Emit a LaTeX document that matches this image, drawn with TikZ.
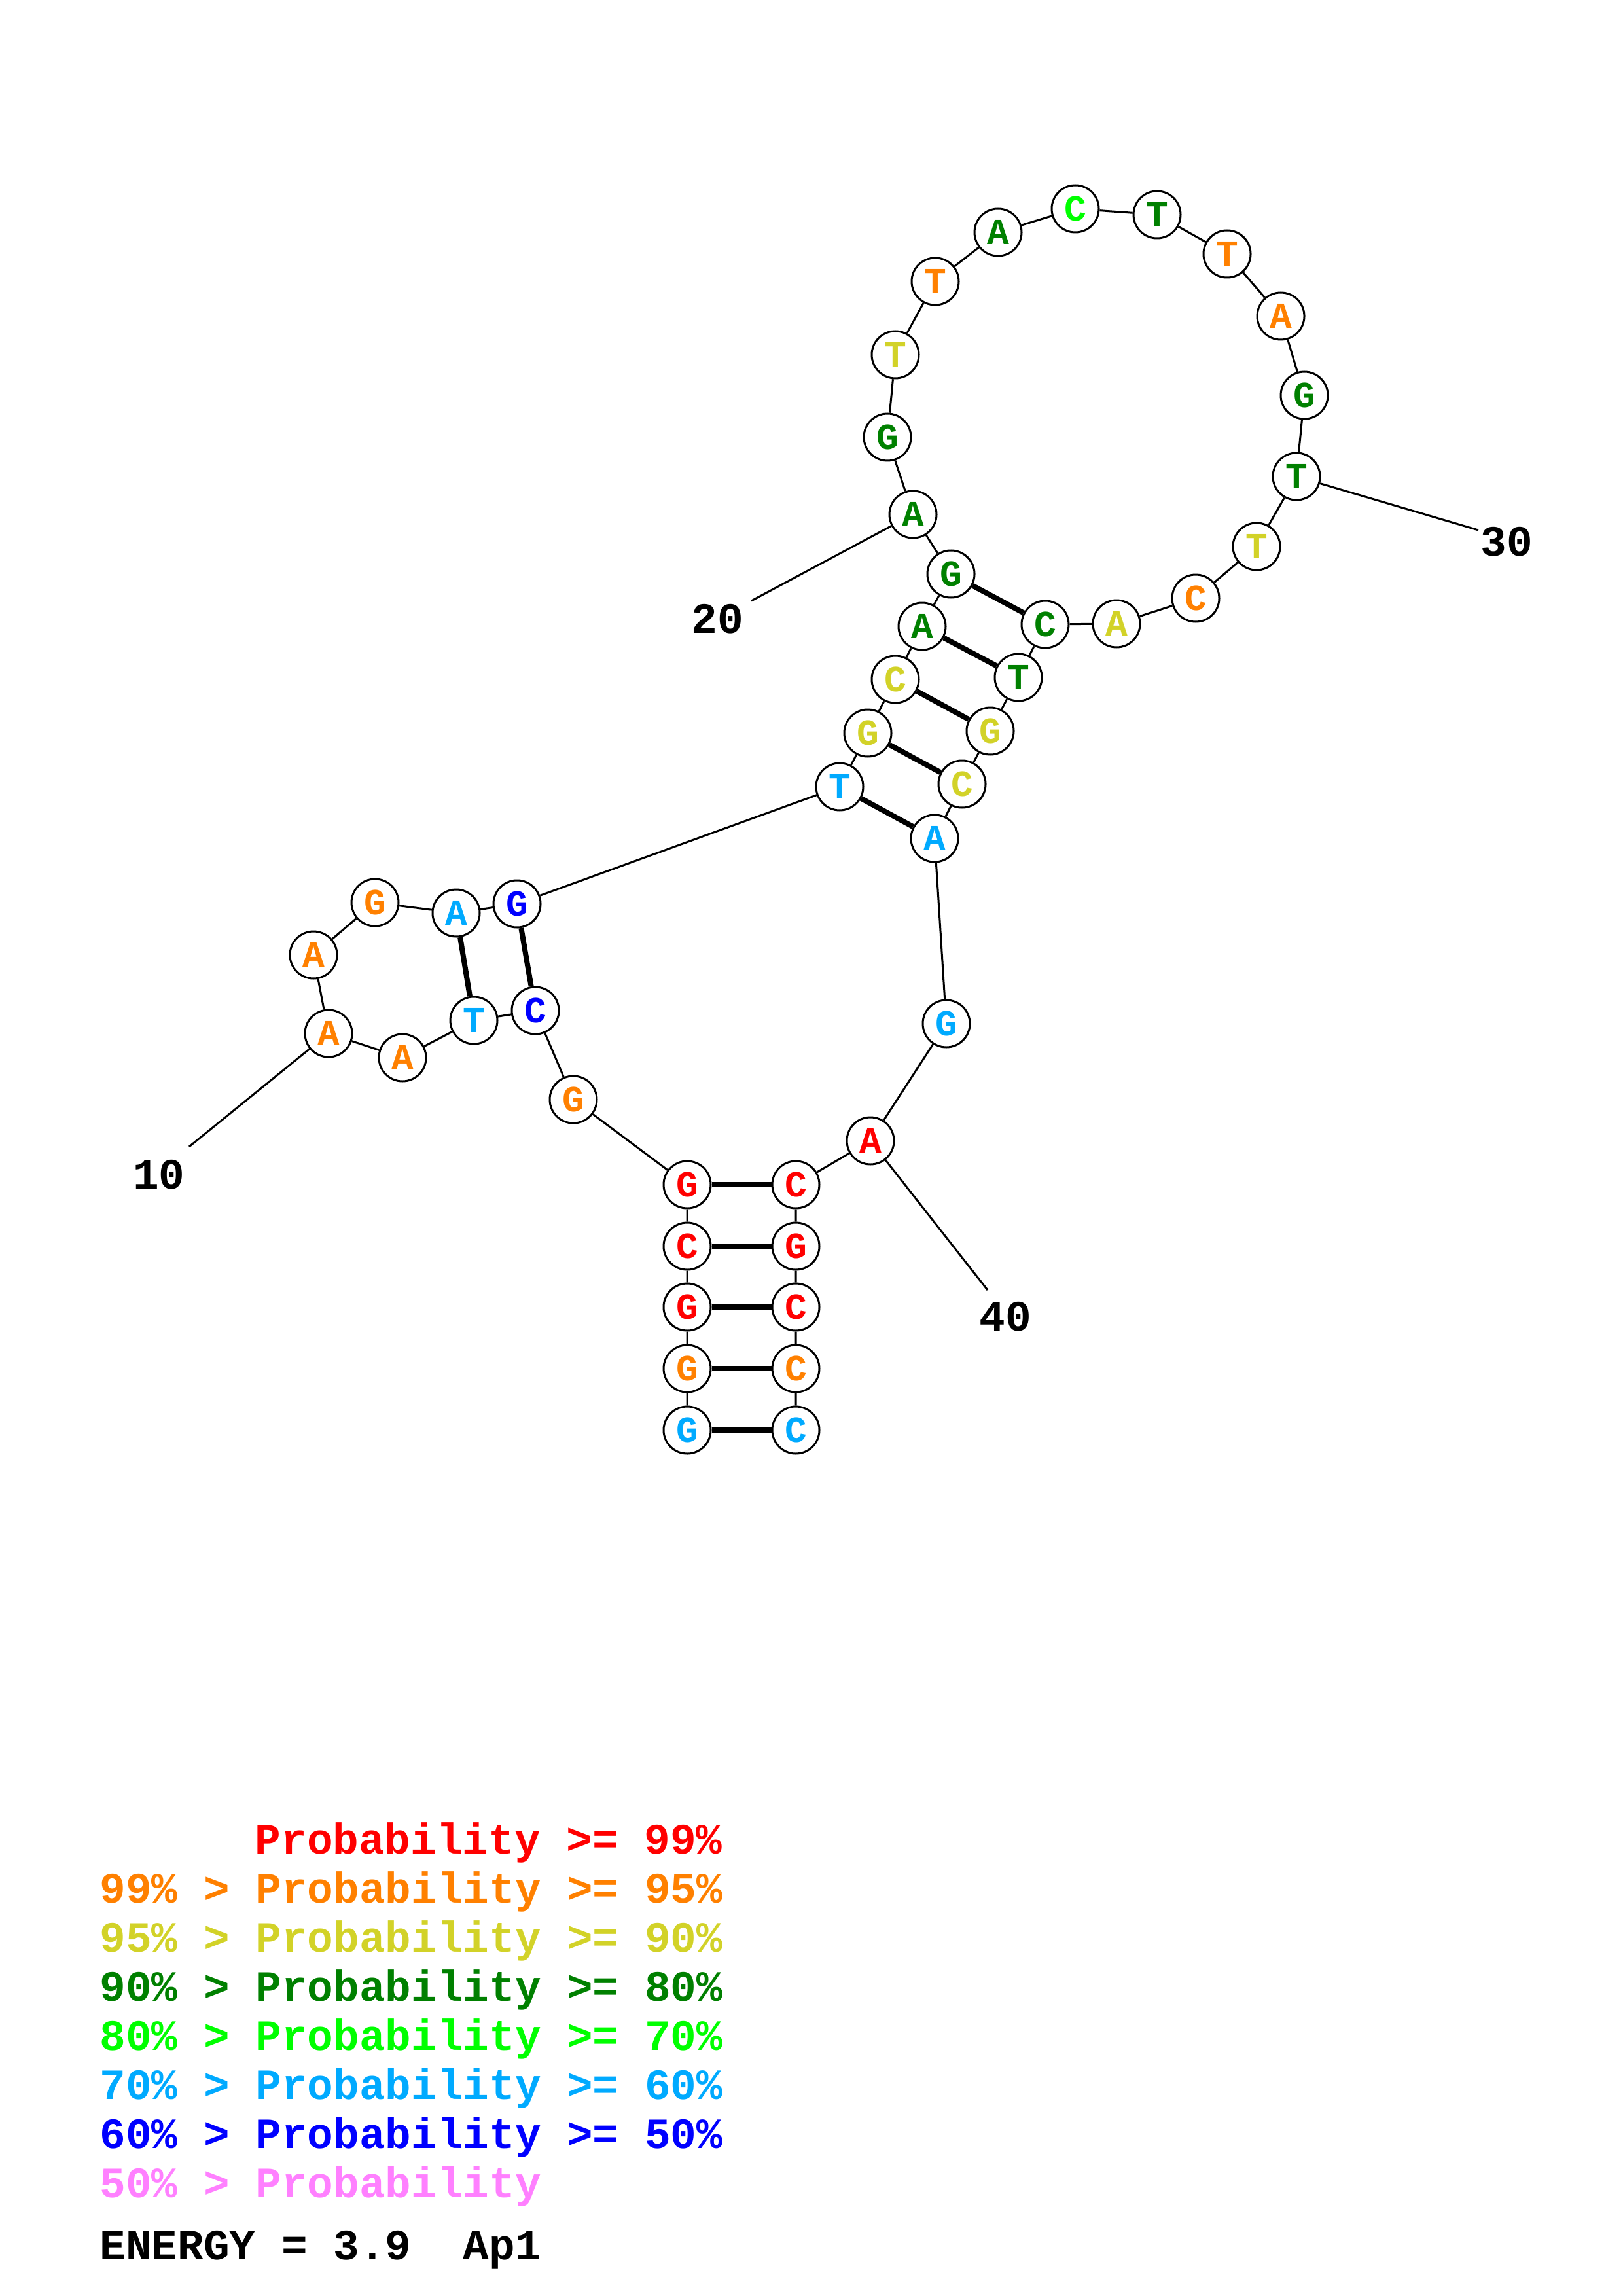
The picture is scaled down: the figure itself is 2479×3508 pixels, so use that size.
\documentclass[tikz,border=0pt]{standalone}
\usepackage{fontspec}
\setmainfont{Liberation Mono}
\usepackage{tikz}
\definecolor{c99}{RGB}{255,0,0}
\definecolor{c95}{RGB}{255,128,0}
\definecolor{c90}{RGB}{210,210,40}
\definecolor{c80}{RGB}{0,128,0}
\definecolor{c70}{RGB}{0,255,0}
\definecolor{c60}{RGB}{0,170,255}
\definecolor{c50}{RGB}{0,0,255}
\definecolor{clow}{RGB}{255,128,255}
\frenchspacing

\begin{document}
\begin{tikzpicture}[x=0.1mm,y=-0.1mm]
        \tikzstyle{every node}+=[inner sep=0pt]
        \tikzstyle{base}=[circle, draw=black, line width=0.3mm, fill=white, minimum size=7.2mm, font=\fontsize{16}{16}\selectfont\bfseries]
        \tikzstyle{num}=[font=\fontsize{18.8}{18.8}\selectfont\bfseries]
        \tikzstyle{bb}=[line width=0.3mm]
        \tikzstyle{bp}=[line width=0.8mm]
        \useasboundingbox (0,0) rectangle (2479,3508);
        % nucleotides
        \node [base, text=c60] (b1) at (1050,2185) {G};
        \node [base, text=c95] (b2) at (1050,2091) {G};
        \node [base, text=c99] (b3) at (1050,1997) {G};
        \node [base, text=c99] (b4) at (1050,1904) {C};
        \node [base, text=c99] (b5) at (1050,1810) {G};
        \node [base, text=c95] (b6) at (876,1680) {G};
        \node [base, text=c50] (b7) at (818,1544) {C};
        \node [base, text=c60] (b8) at (724,1559) {T};
        \node [base, text=c95] (b9) at (615,1616) {A};
        \node [base, text=c95] (b10) at (502,1579) {A};
        \node [base, text=c95] (b11) at (479,1459) {A};
        \node [base, text=c95] (b12) at (573,1379) {G};
        \node [base, text=c60] (b13) at (697,1395) {A};
        \node [base, text=c50] (b14) at (790,1381) {G};
        \node [base, text=c60] (b15) at (1283,1202) {T};
        \node [base, text=c90] (b16) at (1326,1120) {G};
        \node [base, text=c90] (b17) at (1368,1038) {C};
        \node [base, text=c80] (b18) at (1409,957) {A};
        \node [base, text=c80] (b19) at (1453,877) {G};
        \node [base, text=c80] (b20) at (1395,786) {A};
        \node [base, text=c80] (b21) at (1356,668) {G};
        \node [base, text=c90] (b22) at (1368,542) {T};
        \node [base, text=c95] (b23) at (1429,430) {T};
        \node [base, text=c80] (b24) at (1525,355) {A};
        \node [base, text=c70] (b25) at (1643,319) {C};
        \node [base, text=c80] (b26) at (1768,328) {T};
        \node [base, text=c95] (b27) at (1875,388) {T};
        \node [base, text=c95] (b28) at (1957,483) {A};
        \node [base, text=c80] (b29) at (1993,604) {G};
        \node [base, text=c80] (b30) at (1981,728) {T};
        \node [base, text=c90] (b31) at (1920,835) {T};
        \node [base, text=c95] (b32) at (1827,914) {C};
        \node [base, text=c90] (b33) at (1706,953) {A};
        \node [base, text=c80] (b34) at (1597,954) {C};
        \node [base, text=c80] (b35) at (1556,1035) {T};
        \node [base, text=c90] (b36) at (1513,1117) {G};
        \node [base, text=c90] (b37) at (1470,1198) {C};
        \node [base, text=c60] (b38) at (1428,1281) {A};
        \node [base, text=c60] (b39) at (1446,1564) {G};
        \node [base, text=c99] (b40) at (1330,1743) {A};
        \node [base, text=c99] (b41) at (1216,1810) {C};
        \node [base, text=c99] (b42) at (1216,1904) {G};
        \node [base, text=c99] (b43) at (1216,1997) {C};
        \node [base, text=c95] (b44) at (1216,2091) {C};
        \node [base, text=c60] (b45) at (1216,2185) {C};
        % backbone
        \draw [bb] (b1) -- (b2) -- (b3) -- (b4) -- (b5) -- (b6) -- (b7) -- (b8) -- (b9) -- (b10)
          -- (b11) -- (b12) -- (b13) -- (b14) -- (b15) -- (b16) -- (b17) -- (b18) -- (b19) -- (b20)
          -- (b21) -- (b22) -- (b23) -- (b24) -- (b25) -- (b26) -- (b27) -- (b28) -- (b29) -- (b30)
          -- (b31) -- (b32) -- (b33) -- (b34) -- (b35) -- (b36) -- (b37) -- (b38) -- (b39) -- (b40)
          -- (b41) -- (b42) -- (b43) -- (b44) -- (b45);
        % base pairs
        \draw [bp] (b1) -- (b45);
        \draw [bp] (b2) -- (b44);
        \draw [bp] (b3) -- (b43);
        \draw [bp] (b4) -- (b42);
        \draw [bp] (b5) -- (b41);
        \draw [bp] (b7) -- (b14);
        \draw [bp] (b8) -- (b13);
        \draw [bp] (b15) -- (b38);
        \draw [bp] (b16) -- (b37);
        \draw [bp] (b17) -- (b36);
        \draw [bp] (b18) -- (b35);
        \draw [bp] (b19) -- (b34);
        % position ticks
        \coordinate (t10) at (289,1752);
        \coordinate (t20) at (1148,918);
        \coordinate (t30) at (2259,810);
        \coordinate (t40) at (1509,1971);
        \draw [bb] (b10) -- (t10);
        \draw [bb] (b20) -- (t20);
        \draw [bb] (b30) -- (t30);
        \draw [bb] (b40) -- (t40);
        \node [num] (l10) at (243,1795) {10};
        \node [num] (l20) at (1096,946) {20};
        \node [num] (l30) at (2302,828) {30};
        \node [num] (l40) at (1536,2012) {40};
        % legend
        \node [num, anchor=base west, text=c99] (k1) at (389,2832) {Probability >= 99\%};
        \node [num, anchor=base west, text=c95] (k2) at (152,2907) {99\% > Probability >= 95\%};
        \node [num, anchor=base west, text=c90] (k3) at (152,2982) {95\% > Probability >= 90\%};
        \node [num, anchor=base west, text=c80] (k4) at (152,3057) {90\% > Probability >= 80\%};
        \node [num, anchor=base west, text=c70] (k5) at (152,3132) {80\% > Probability >= 70\%};
        \node [num, anchor=base west, text=c60] (k6) at (152,3207) {70\% > Probability >= 60\%};
        \node [num, anchor=base west, text=c50] (k7) at (152,3282) {60\% > Probability >= 50\%};
        \node [num, anchor=base west, text=clow] (k8) at (152,3357) {50\% > Probability};
        \node [num, anchor=base west] (en) at (152,3452) {ENERGY = 3.9\ \ Ap1};
    \end{tikzpicture}
\end{document}
